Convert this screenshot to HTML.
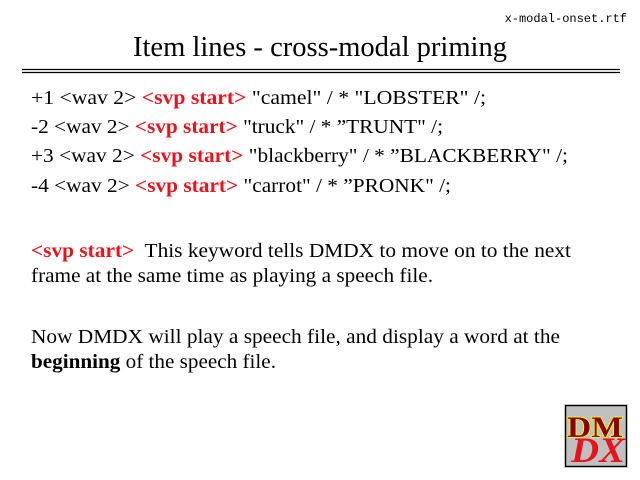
<!DOCTYPE html>
<html><head><meta charset="utf-8"><style>
html,body{margin:0;padding:0;background:#fff;width:640px;height:480px;overflow:hidden}
svg{display:block}
text{font-family:"Liberation Serif",serif;font-size:20px;fill:#000}
.r{fill:#e8141c;font-weight:bold}
</style></head><body>
<svg width="640" height="480" viewBox="0 0 640 480">
<text x="627" y="22" text-anchor="end" style="font-family:'Liberation Mono',monospace;font-size:12px">x-modal-onset.rtf</text>
<text x="133" y="56" textLength="374" lengthAdjust="spacingAndGlyphs" style="font-size:29px">Item lines - cross-modal priming</text>
<line x1="22" y1="69.5" x2="620" y2="69.5" stroke="#000" stroke-width="1.2"/>
<line x1="22" y1="72.5" x2="620" y2="72.5" stroke="#000" stroke-width="1.2"/>
<text x="31" y="104" textLength="455" lengthAdjust="spacingAndGlyphs">+1 &lt;wav 2&gt; <tspan class="r">&lt;svp start&gt;</tspan> "camel" / * "LOBSTER" /;</text>
<text x="31" y="133" textLength="412" lengthAdjust="spacingAndGlyphs">-2 &lt;wav 2&gt; <tspan class="r">&lt;svp start&gt;</tspan> "truck" / * ”TRUNT" /;</text>
<text x="31" y="162" textLength="537" lengthAdjust="spacingAndGlyphs">+3 &lt;wav 2&gt; <tspan class="r">&lt;svp start&gt;</tspan> "blackberry" / * ”BLACKBERRY" /;</text>
<text x="31" y="192" textLength="420" lengthAdjust="spacingAndGlyphs">-4 &lt;wav 2&gt; <tspan class="r">&lt;svp start&gt;</tspan> "carrot" / * ”PRONK" /;</text>
<text x="31" y="257" textLength="540" lengthAdjust="spacingAndGlyphs"><tspan class="r">&lt;svp start&gt;</tspan>&#160; This keyword tells DMDX to move on to the next</text>
<text x="31" y="282" textLength="402" lengthAdjust="spacingAndGlyphs">frame at the same time as playing a speech file.</text>
<text x="31" y="343" textLength="529" lengthAdjust="spacingAndGlyphs">Now DMDX will play a speech file, and display a word at the</text>
<text x="31" y="368" textLength="245" lengthAdjust="spacingAndGlyphs"><tspan style="font-weight:bold">beginning</tspan> of the speech file.</text>
<rect x="565.5" y="405.5" width="61" height="61" fill="#c0c0c0" stroke="#000" stroke-width="1.5"/>
<text x="571" y="462" textLength="54" lengthAdjust="spacingAndGlyphs" style="font-size:36px;font-style:italic;font-weight:bold;fill:#e8141c">DX</text>
<text x="567" y="437" textLength="56" lengthAdjust="spacingAndGlyphs" style="font-size:30px;font-weight:bold;fill:#8b0000;stroke:#ffff00;stroke-width:1.5;paint-order:stroke">DM</text>
</svg>
</body></html>
